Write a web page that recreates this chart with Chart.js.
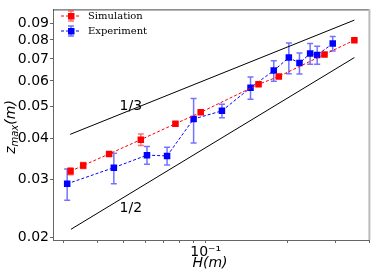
<!DOCTYPE html>
<html>
<head>
<meta charset="utf-8">
<script src="https://cdn.jsdelivr.net/npm/chart.js@4"></script>
<style>
  html, body { margin: 0; padding: 0; background: #fff; }
  #wrap { width: 374px; height: 275px; }
</style>
</head>
<body>
<div id="wrap"><canvas id="zChart" width="374" height="275"></canvas></div>
<script>
// Simulation (red)
const simH = [0.0318, 0.0354, 0.0441, 0.0577, 0.0774, 0.0959, 0.1566, 0.186, 0.274, 0.353];
const simZ = [0.0318, 0.0331, 0.0359, 0.0397, 0.0444, 0.0481, 0.0586, 0.0619, 0.0723, 0.0799];
const simErr = [0.0008, 0.0007, 0.0005, 0.0016, 0.0004, 0.0004, 0.0004, 0.0004, 0.0004, 0.0004];

// Experiment (blue)
const expH = [0.0309, 0.0459, 0.0608, 0.0721, 0.0903, 0.1148, 0.1463, 0.1782, 0.2025, 0.2216, 0.2426, 0.2575, 0.2938];
const expZ = [0.0291, 0.0326, 0.0356, 0.0354, 0.0459, 0.0486, 0.0572, 0.0645, 0.0707, 0.0680, 0.0727, 0.0720, 0.0780];
const expErr = [0.0032, 0.0035, 0.0022, 0.0022, 0.0071, 0.0023, 0.0045, 0.0046, 0.0076, 0.0050, 0.0053, 0.0045, 0.0040];

// reference slopes
const slope3H = [0.0317, 0.353];
const slope3Z = [0.0412, 0.0920];
const slope2H = [0.0319, 0.353];
const slope2Z = [0.02113, 0.0707];
const slopeLabels = ['1/3', '1/2'];
const slopeLabelH = [0.053, 0.053];
const slopeLabelZ = [0.0502, 0.0244];

const yTicks = [0.02, 0.03, 0.04, 0.05, 0.06, 0.07, 0.08, 0.09];
const xTicks = [0.03, 0.04, 0.05, 0.06, 0.07, 0.08, 0.09, 0.1, 0.2, 0.3, 0.4];

const pts = (xs, ys) => xs.map((x, i) => ({ x: x, y: ys[i] }));

// error bars drawn under the markers
const errorBars = {
    id: 'errorBars',
    beforeDatasetsDraw(chart) {
        const ctx = chart.ctx;
        const xs = chart.scales.x, ys = chart.scales.y;
        const sets = [[simH, simZ, simErr, 'rgba(255,0,0,0.55)'], [expH, expZ, expErr, 'rgba(0,0,255,0.55)']];
        ctx.save();
        ctx.lineWidth = 1.5;
        sets.forEach(([h, z, e, col]) => {
            ctx.strokeStyle = col;
            h.forEach((v, i) => {
                const px = xs.getPixelForValue(v);
                const top = ys.getPixelForValue(z[i] + e[i]);
                const bot = ys.getPixelForValue(z[i] - e[i]);
                ctx.beginPath();
                ctx.moveTo(px, top); ctx.lineTo(px, bot);
                ctx.moveTo(px - 3, top); ctx.lineTo(px + 3, top);
                ctx.moveTo(px - 3, bot); ctx.lineTo(px + 3, bot);
                ctx.stroke();
            });
        });
        ctx.restore();
    }
};

// frame, slope labels, legend, axis titles
const decor = {
    id: 'decor',
    afterDraw(chart) {
        const ctx = chart.ctx;
        const a = chart.chartArea;
        const xs = chart.scales.x, ys = chart.scales.y;
        ctx.save();
        ctx.strokeStyle = '#444';
        ctx.lineWidth = 1;
        ctx.beginPath();
        ctx.moveTo(a.left, a.top + 0.5); ctx.lineTo(a.right, a.top + 0.5);
        ctx.stroke();
        ctx.strokeStyle = '#bbb';
        ctx.lineWidth = 2;
        ctx.beginPath();
        ctx.moveTo(a.right, a.top); ctx.lineTo(a.right, a.bottom);
        ctx.stroke();

        ctx.fillStyle = '#000';
        ctx.font = '14px "DejaVu Sans"';
        ctx.textAlign = 'center';
        ctx.textBaseline = 'middle';
        slopeLabels.forEach((t, i) => {
            ctx.fillText(t, xs.getPixelForValue(slopeLabelH[i]), ys.getPixelForValue(slopeLabelZ[i]));
        });

        // legend
        const items = [['Simulation', '#ff0000', 'rgba(255,0,0,0.55)'], ['Experiment', '#0000ff', 'rgba(0,0,255,0.55)']];
        items.forEach(([t, c, ec], i) => {
            const y = 16 + i * 15;
            ctx.strokeStyle = c;
            ctx.lineWidth = 1;
            ctx.setLineDash([3, 2]);
            ctx.beginPath(); ctx.moveTo(61, y); ctx.lineTo(81, y); ctx.stroke();
            ctx.setLineDash([]);
            ctx.strokeStyle = ec;
            ctx.lineWidth = 1.5;
            ctx.beginPath();
            ctx.moveTo(71, y - 5); ctx.lineTo(71, y + 5);
            ctx.moveTo(68, y - 5); ctx.lineTo(74, y - 5);
            ctx.moveTo(68, y + 5); ctx.lineTo(74, y + 5);
            ctx.stroke();
            ctx.fillStyle = c;
            ctx.fillRect(68, y - 3, 6.5, 6.5);
            ctx.fillStyle = '#000';
            ctx.font = '10px "DejaVu Serif"';
            ctx.textAlign = 'left';
            ctx.fillText(t, 88, y + 0.5);
        });

        // x title
        ctx.textAlign = 'center';
        ctx.font = 'italic 14px "DejaVu Sans"';
        ctx.fillText('H(m)', 210, 263);

        // y title with subscript
        ctx.translate(11, 127);
        ctx.rotate(-Math.PI / 2);
        ctx.textAlign = 'left';
        const big = 'italic 14px "DejaVu Sans"', small = 'italic 10px "DejaVu Sans"';
        ctx.font = big; const w1 = ctx.measureText('z').width;
        ctx.font = small; const w2 = ctx.measureText('max').width;
        ctx.font = big; const w3 = ctx.measureText('(m)').width;
        let x0 = -(w1 + w2 + w3) / 2;
        ctx.font = big; ctx.fillText('z', x0, 0);
        ctx.font = small; ctx.fillText('max', x0 + w1, 4);
        ctx.font = big; ctx.fillText('(m)', x0 + w1 + w2, 0);
        ctx.restore();
    }
};

new Chart(document.getElementById('zChart'), {
    type: 'scatter',
    data: {
        datasets: [
            {
                label: 'Simulation',
                data: pts(simH, simZ),
                showLine: true,
                borderColor: '#ff0000',
                backgroundColor: '#ff0000',
                borderWidth: 1,
                borderDash: [3, 2],
                pointStyle: 'rect',
                pointRadius: 4.6,
                pointBorderWidth: 0
            },
            {
                label: 'Experiment',
                data: pts(expH, expZ),
                showLine: true,
                borderColor: '#0000ff',
                backgroundColor: '#0000ff',
                borderWidth: 1,
                borderDash: [3, 2],
                pointStyle: 'rect',
                pointRadius: 4.6,
                pointBorderWidth: 0
            },
            {
                data: pts(slope3H, slope3Z),
                showLine: true,
                borderColor: '#000',
                borderWidth: 1,
                pointRadius: 0
            },
            {
                data: pts(slope2H, slope2Z),
                showLine: true,
                borderColor: '#000',
                borderWidth: 1,
                pointRadius: 0
            }
        ]
    },
    options: {
        responsive: false,
        animation: false,
        layout: { padding: { top: 4, right: 4, left: 0, bottom: 0 } },
        plugins: { legend: { display: false }, tooltip: { enabled: false } },
        scales: {
            x: {
                type: 'logarithmic',
                min: 0.0274,
                max: 0.401,
                afterBuildTicks: s => { s.ticks = xTicks.map(v => ({ value: v })); },
                afterFit: s => { s.height = 35; },
                ticks: {
                    autoSkip: false,
                    maxRotation: 0,
                    padding: 1,
                    color: '#000',
                    font: { family: 'DejaVu Sans', size: 14 },
                    callback: v => (v === 0.1 ? '10\u207B\u00B9' : '')
                },
                grid: { drawOnChartArea: false, tickLength: 3, color: '#666' },
                border: { color: '#666', width: 1 }
            },
            y: {
                type: 'logarithmic',
                min: 0.0196,
                max: 0.0992,
                afterBuildTicks: s => { s.ticks = yTicks.map(v => ({ value: v })); },
                afterFit: s => { s.width = 53; },
                ticks: {
                    autoSkip: false,
                    padding: 1,
                    color: '#000',
                    font: { family: 'DejaVu Sans', size: 14 },
                    callback: v => v.toFixed(2)
                },
                grid: { drawOnChartArea: false, tickLength: 3, color: '#666' },
                border: { color: '#666', width: 1 }
            }
        }
    },
    plugins: [errorBars, decor]
});
</script>
</body>
</html>
